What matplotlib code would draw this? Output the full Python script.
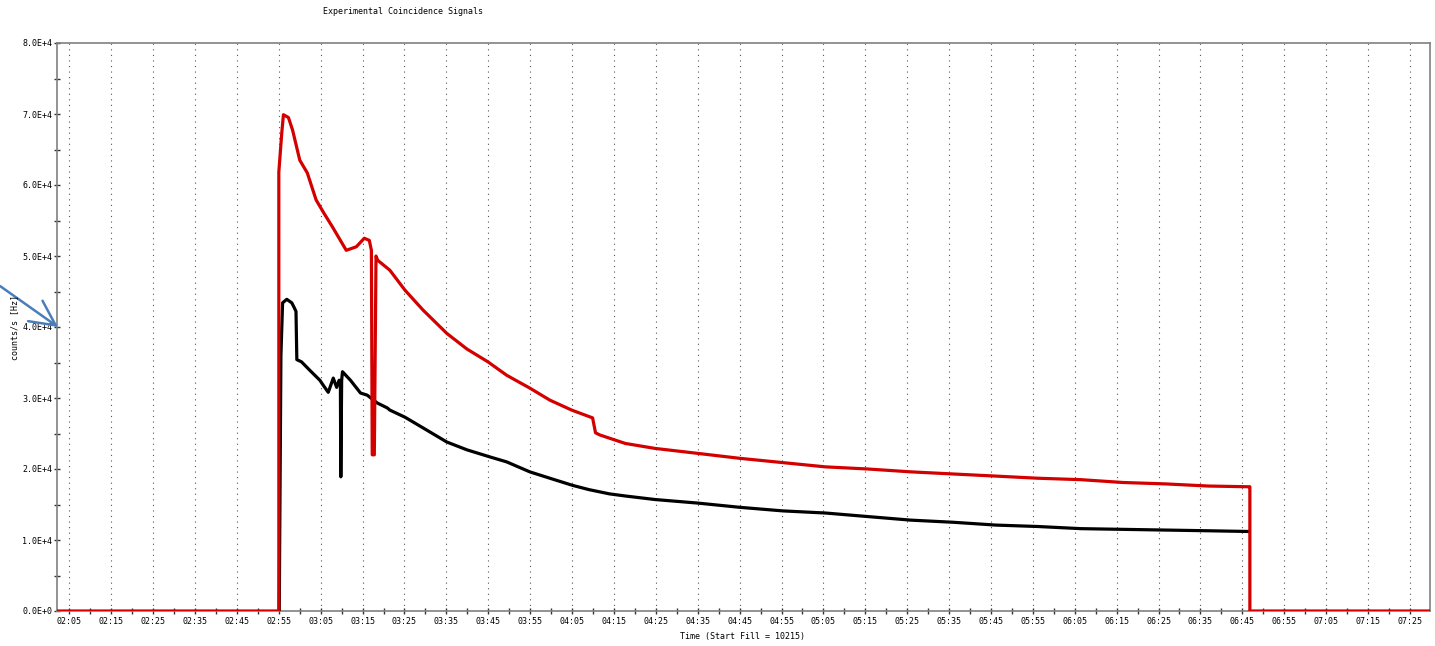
import math
import matplotlib
matplotlib.use("Agg")
import matplotlib.pyplot as plt
from matplotlib.ticker import MultipleLocator, FuncFormatter

# time in minutes since midnight
red_t = [122.0, 175.0, 175.0, 175.7, 176.1, 177.3, 178.3, 180.0, 181.8, 183.9, 185.8,
         187.8, 191.1, 193.5, 195.4, 196.6, 197.1, 197.3, 197.8, 198.2, 198.6, 201.5,
         205.1, 209.4, 215.1, 219.9, 224.9, 229.4, 234.9, 239.7, 244.9, 249.9, 250.6,
         251.6, 257.7, 264.8, 275.0, 285.1, 295.3, 305.5, 315.6, 325.8, 335.9, 346.2,
         356.2, 366.4, 376.5, 386.7, 396.9, 406.3, 406.8, 406.8, 450.0]
red_v = [0, 0, 61800, 67300, 69900, 69500, 67700, 63500, 61700, 57900, 56000,
         54100, 50800, 51300, 52500, 52200, 50800, 22000, 22000, 50000, 49400, 48000,
         45200, 42400, 39100, 36900, 35100, 33200, 31400, 29700, 28300, 27200, 25100,
         24800, 23600, 22900, 22200, 21500, 20900, 20300, 20000, 19600, 19300, 19000,
         18700, 18500, 18100, 17900, 17600, 17500, 17500, 0, 0]

black_t = [175.1, 175.5, 175.9, 176.9, 178.1, 178.7, 179.1, 179.3, 180.4, 182.4, 184.8,
           185.6, 186.8, 188.0, 188.8, 189.4, 189.7, 189.8, 190.0, 190.2, 192.1, 194.5,
           196.1, 198.5, 200.9, 201.5, 205.1, 209.4, 215.1, 219.9, 225.4, 229.4, 234.9,
           239.7, 245.1, 249.0, 253.9, 257.7, 264.8, 275.0, 285.1, 295.3, 305.5, 315.6,
           325.8, 335.9, 346.2, 356.2, 366.4, 376.5, 386.7, 396.9, 406.5]
black_v = [0, 36000, 43400, 43900, 43400, 42700, 42200, 35400, 35100, 33900, 32500,
           31800, 30800, 32800, 31500, 32500, 32000, 18900, 32500, 33700, 32500, 30700,
           30400, 29300, 28600, 28300, 27300, 25800, 23800, 22700, 21700, 21000, 19600,
           18700, 17700, 17100, 16500, 16200, 15700, 15200, 14600, 14100, 13800, 13300,
           12800, 12500, 12100, 11900, 11600, 11500, 11400, 11300, 11200]

title = "Experimental Coincidence Signals"
xlabel = "Time (Start Fill = 10215)"
ylabel = "counts/s [Hz]"

FONT = "DejaVu Sans Mono"
FS = 6

fig = plt.figure(figsize=(14.35, 6.46), dpi=100)
ax = fig.add_axes([57/1435, 1-611/646, (1430-57)/1435, (611-43)/646])

ax.plot(black_t, black_v, color="black", lw=2.3, zorder=3, solid_joinstyle="round")
ax.plot(red_t, red_v, color="#d40000", lw=2.3, zorder=4, solid_joinstyle="round")

ax.set_xlim(122.05, 449.8)
ax.set_ylim(0, 80000)

ax.xaxis.set_major_locator(MultipleLocator(10, offset=5))
ax.xaxis.set_minor_locator(MultipleLocator(5))
ax.yaxis.set_major_locator(MultipleLocator(10000))
ax.yaxis.set_minor_locator(MultipleLocator(5000))

def tfmt(v, pos):
    m = int(round(v))
    return f"{m // 60:02d}:{m % 60:02d}"

def yfmt(v, pos):
    if v == 0:
        return "0.0E+0"
    e = int(math.floor(math.log10(abs(v))))
    return f"{v / 10**e:.1f}E+{e}"

ax.xaxis.set_major_formatter(FuncFormatter(tfmt))
ax.yaxis.set_major_formatter(FuncFormatter(yfmt))

ax.grid(True, axis="x", which="major", color="#555555", linestyle=(0, (1, 4)), lw=0.8)
ax.grid(False, axis="y")

for sp in ax.spines.values():
    sp.set_color("#808080")
    sp.set_linewidth(1.2)

ax.tick_params(axis="both", which="both", direction="inout", length=5, width=1.0,
               color="#333333", labelsize=FS)
ax.tick_params(axis="x", pad=2)
ax.tick_params(axis="y", pad=1)
for lab in ax.get_xticklabels() + ax.get_yticklabels():
    lab.set_family(FONT)
    lab.set_fontsize(FS)

fig.text(403/1435, 1-12/646, title, ha="center", va="center", family=FONT, fontsize=FS)
fig.text(743/1435, 1-637/646, xlabel, ha="center", va="center", family=FONT, fontsize=FS)
fig.text(15/1435, 1-327/646, ylabel, ha="center", va="center", rotation=90,
         family=FONT, fontsize=FS)

ax.annotate("", xy=(58, 646-327), xycoords="figure pixels",
            xytext=(0, 646-286), textcoords="figure pixels",
            arrowprops=dict(arrowstyle="->,head_length=0.9,head_width=0.45",
                            color="#4a7ebb", lw=1.8, mutation_scale=20,
                            shrinkA=0, shrinkB=0),
            annotation_clip=False, zorder=10)

fig.savefig("out.png", dpi=100)
